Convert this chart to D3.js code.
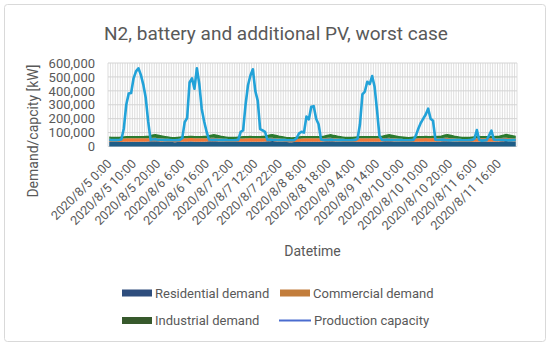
<!DOCTYPE html>
<html>
<head>
<meta charset="utf-8">
<script src="https://cdnjs.cloudflare.com/ajax/libs/d3/7.8.5/d3.min.js"></script>
<style>
  body { margin: 0; background: #fff; }
  text { font-family: Roboto, "Noto Sans", sans-serif; fill: #595959; }
</style>
</head>
<body>
<script>
// days and hours shown on the category axis
var days = ["2020/8/5", "2020/8/6", "2020/8/7", "2020/8/8", "2020/8/9", "2020/8/10", "2020/8/11"];
var hours = [0, 1, 2, 3, 4, 5, 6, 7, 8, 9, 10, 11, 12, 13, 14, 15, 16, 17, 18, 19, 20, 21, 22, 23];

// demand series [kW], hourly, one row per day
var residential = [
  33000,32000,32000,32000,32000,33000,34000,35000,35000,35000,35000,35000,35000,35000,35000,35000,36000,37000,38000,38000,37000,36000,35000,34000,
  33000,32000,32000,31000,32000,33000,34000,35000,35000,36000,36000,35000,35000,35000,35000,35000,36000,37000,38000,38000,37000,36000,35000,34000,
  33000,32000,32000,32000,32000,33000,34000,34000,35000,35000,35000,35000,35000,35000,35000,35000,36000,37000,38000,39000,37000,36000,35000,34000,
  33000,32000,31000,31000,32000,32000,33000,34000,35000,35000,35000,35000,35000,35000,35000,35000,36000,37000,38000,38000,37000,36000,35000,34000,
  33000,32000,32000,32000,32000,33000,34000,35000,35000,35000,35000,35000,35000,35000,35000,35000,36000,37000,37000,38000,37000,36000,35000,34000,
  33000,32000,32000,32000,32000,33000,34000,35000,35000,35000,36000,35000,35000,35000,35000,35000,36000,37000,38000,38000,37000,36000,35000,34000,
  33000,32000,32000,32000,32000,33000,34000,35000,35000,35000,35000,35000,35000,35000,35000,35000,36000,37000,38000,39000,38000,37000,36000,35000
];
var commercial = [
  22000,22000,22000,22000,22000,22000,23000,24000,25000,25000,25000,25000,25000,25000,25000,25000,24000,24000,24000,24000,23000,23000,22000,22000,
  22000,22000,21000,21000,22000,22000,23000,24000,25000,25000,25000,25000,25000,25000,25000,25000,24000,24000,24000,24000,23000,23000,22000,22000,
  22000,22000,22000,22000,22000,22000,23000,24000,25000,25000,26000,25000,25000,25000,25000,25000,24000,24000,24000,24000,23000,23000,22000,22000,
  22000,21000,21000,21000,21000,22000,23000,24000,24000,25000,25000,25000,25000,25000,25000,24000,24000,24000,24000,24000,23000,23000,22000,22000,
  22000,22000,22000,22000,22000,22000,23000,24000,25000,25000,25000,25000,25000,25000,25000,25000,24000,24000,24000,24000,23000,23000,22000,22000,
  22000,22000,22000,21000,22000,22000,23000,24000,25000,25000,25000,25000,25000,26000,25000,25000,24000,24000,24000,24000,23000,23000,22000,22000,
  22000,22000,22000,22000,22000,22000,23000,24000,25000,25000,25000,25000,25000,25000,25000,25000,24000,24000,24000,24000,23000,23000,22000,22000
];
var industrial = [
  17000,16000,16000,16000,16000,17000,17000,17000,16000,16000,16000,16000,16000,16000,16000,17000,18000,22000,26000,28000,26000,24000,22000,20000,
  18000,16000,16000,16000,16000,16000,17000,17000,16000,16000,16000,16000,16000,16000,16000,17000,18000,21000,25000,27000,26000,24000,21000,19000,
  17000,16000,16000,16000,16000,17000,17000,17000,16000,16000,16000,16000,16000,16000,16000,17000,18000,22000,26000,27000,26000,23000,21000,19000,
  17000,16000,16000,15000,16000,16000,17000,17000,16000,16000,16000,16000,16000,16000,16000,17000,18000,22000,25000,27000,25000,23000,21000,19000,
  17000,16000,16000,16000,16000,17000,17000,17000,16000,16000,16000,16000,16000,16000,16000,17000,18000,21000,25000,27000,26000,24000,22000,20000,
  18000,17000,16000,16000,16000,16000,17000,17000,16000,16000,16000,16000,16000,16000,16000,17000,18000,22000,26000,27000,26000,24000,21000,19000,
  17000,16000,16000,16000,16000,17000,17000,17000,16000,16000,16000,16000,16000,16000,16000,17000,18000,22000,25000,28000,27000,25000,23000,21000
];
// production capacity [kW]
var production = [
  47000,46000,46000,46000,47000,50000,130000,300000,380000,385000,490000,540000,562000,515000,445000,350000,180000,48000,50000,51000,49000,48000,47000,46000,
  46000,46000,45000,45000,46000,47000,60000,175000,205000,460000,490000,415000,562000,450000,270000,180000,106000,50000,48000,49000,48000,47000,46000,46000,
  46000,45000,45000,45000,46000,47000,105000,115000,300000,440000,510000,555000,400000,330000,125000,115000,105000,48000,50000,49000,48000,47000,46000,46000,
  46000,45000,45000,45000,46000,60000,95000,106000,100000,215000,195000,285000,290000,200000,160000,50000,47000,48000,49000,50000,48000,47000,46000,46000,
  46000,45000,45000,45000,46000,47000,55000,160000,375000,395000,465000,448000,506000,430000,262000,75000,48000,49000,50000,49000,48000,47000,46000,46000,
  46000,45000,45000,45000,46000,47000,80000,130000,170000,200000,230000,272000,200000,185000,48000,47000,49000,50000,48000,47000,46000,46000,46000,46000,
  46000,45000,45000,45000,46000,47000,55000,118000,48000,42000,44000,46000,78000,114000,50000,47000,48000,49000,48000,47000,46000,46000,46000,46000
];
var yTicks = [0, 100000, 200000, 300000, 400000, 500000, 600000];
var seriesNames = ["Residential demand", "Commercial demand", "Industrial demand", "Production capacity"];

// category labels: "2020/8/5 0:00" ...
var categories = [];
days.forEach(function(d) {
  hours.forEach(function(h) { categories.push(d + " " + h + ":00"); });
});
var rows = categories.map(function(c, i) {
  return { cat: c, res: residential[i], com: commercial[i], ind: industrial[i], prod: production[i] };
});

var svgWidth = 550, svgHeight = 346;
var plot = { left: 108, right: 517, top: 63, bottom: 146.5 };

var svg = d3.select("body").append("svg")
  .attr("width", svgWidth)
  .attr("height", svgHeight);

// chart frame
svg.append("rect")
  .attr("x", 4.5).attr("y", 4.5)
  .attr("width", 541).attr("height", 337)
  .attr("rx", 3)
  .attr("fill", "#fff")
  .attr("stroke", "#d9d9d9");

var x = d3.scalePoint()
  .domain(categories)
  .range([plot.left, plot.right])
  .padding(0.5);
var step = x.step();

var y = d3.scaleLinear()
  .domain([0, 600000])
  .range([plot.bottom, plot.top]);

// vertical gridlines, one per category boundary
var grid = svg.append("g");
grid.selectAll("line.v")
  .data(categories.concat(["end"]))
  .enter().append("line")
  .attr("class", "v")
  .attr("x1", function(d, i) { return plot.left + i * step; })
  .attr("x2", function(d, i) { return plot.left + i * step; })
  .attr("y1", plot.top)
  .attr("y2", plot.bottom)
  .attr("stroke", "#d4d4d4")
  .attr("stroke-width", 0.8);
// horizontal gridlines
grid.selectAll("line.h")
  .data(yTicks)
  .enter().append("line")
  .attr("class", "h")
  .attr("x1", plot.left).attr("x2", plot.right)
  .attr("y1", function(d) { return y(d); })
  .attr("y2", function(d) { return y(d); })
  .attr("stroke", "#d4d4d4");

// stacked demand areas
var stack = d3.stack().keys(["res", "com", "ind"]);
var stacked = stack(rows);
var fills = { res: "#1f5d87", com: "#f07838", ind: "#2b7a2e" };

var area = d3.area()
  .x(function(d) { return x(d.data.cat); })
  .y0(function(d) { return y(d[0]); })
  .y1(function(d) { return y(d[1]); });

svg.append("g").selectAll("path")
  .data(stacked)
  .enter().append("path")
  .attr("d", area)
  .attr("fill", function(d) { return fills[d.key]; });

// production capacity line
var line = d3.line()
  .x(function(d) { return x(d.cat); })
  .y(function(d) { return y(d.prod); });

svg.append("path")
  .datum(rows)
  .attr("d", line)
  .attr("fill", "none")
  .attr("stroke", "#22a2d8")
  .attr("stroke-width", 2.6)
  .attr("stroke-linejoin", "round");

// y axis
var yAxis = svg.append("g")
  .attr("transform", "translate(" + (plot.left - 13) + ",0)")
  .call(d3.axisLeft(y).tickValues(yTicks).tickFormat(d3.format(",")).tickSize(0).tickPadding(0));
yAxis.select(".domain").remove();
yAxis.selectAll("text")
  .style("font-family", "Roboto, sans-serif")
  .style("font-size", "13px")
  .attr("fill", "#595959");

// x axis labels, every 10th hour, rotated
var xTickValues = categories.filter(function(c, i) { return i % 10 === 0; });
svg.append("g").selectAll("text")
  .data(xTickValues)
  .enter().append("text")
  .attr("transform", function(d) {
    return "translate(" + (x(d) + 3.3) + ",164.5) rotate(-45)";
  })
  .attr("text-anchor", "end")
  .style("font-size", "12.5px")
  .text(function(d) { return d; });

// axis titles
svg.append("text")
  .attr("x", (plot.left + plot.right) / 2)
  .attr("y", 256)
  .attr("text-anchor", "middle")
  .style("font-size", "14px")
  .text("Datetime");

svg.append("text")
  .attr("transform", "translate(38,131) rotate(-90)")
  .attr("text-anchor", "middle")
  .style("font-size", "14px")
  .text("Demand/capcity [kW]");

// title
svg.append("text")
  .attr("x", 276)
  .attr("y", 40)
  .attr("text-anchor", "middle")
  .style("font-size", "19px")
  .text("N2, battery and additional PV, worst case");

// legend
var legendItems = [
  { name: seriesNames[0], color: "#2e4d7d", type: "rect", x: 122, y: 293 },
  { name: seriesNames[1], color: "#c27d3c", type: "rect", x: 280, y: 293 },
  { name: seriesNames[2], color: "#37592c", type: "rect", x: 122, y: 320.5 },
  { name: seriesNames[3], color: "#4a6ccf", type: "line", x: 279, y: 320.5 }
];
var legend = svg.append("g").selectAll("g")
  .data(legendItems)
  .enter().append("g")
  .attr("transform", function(d) { return "translate(" + d.x + "," + d.y + ")"; });
legend.filter(function(d) { return d.type === "rect"; })
  .append("rect")
  .attr("x", 0).attr("y", -3.5)
  .attr("width", 30).attr("height", 7)
  .attr("fill", function(d) { return d.color; });
legend.filter(function(d) { return d.type === "line"; })
  .append("line")
  .attr("x1", 0).attr("x2", 32)
  .attr("stroke", function(d) { return d.color; })
  .attr("stroke-width", 2);
legend.append("text")
  .attr("x", function(d) { return d.type === "line" ? 35 : 33; })
  .attr("dy", "0.35em")
  .style("font-size", "13px")
  .text(function(d) { return d.name; });
</script>
</body>
</html>
